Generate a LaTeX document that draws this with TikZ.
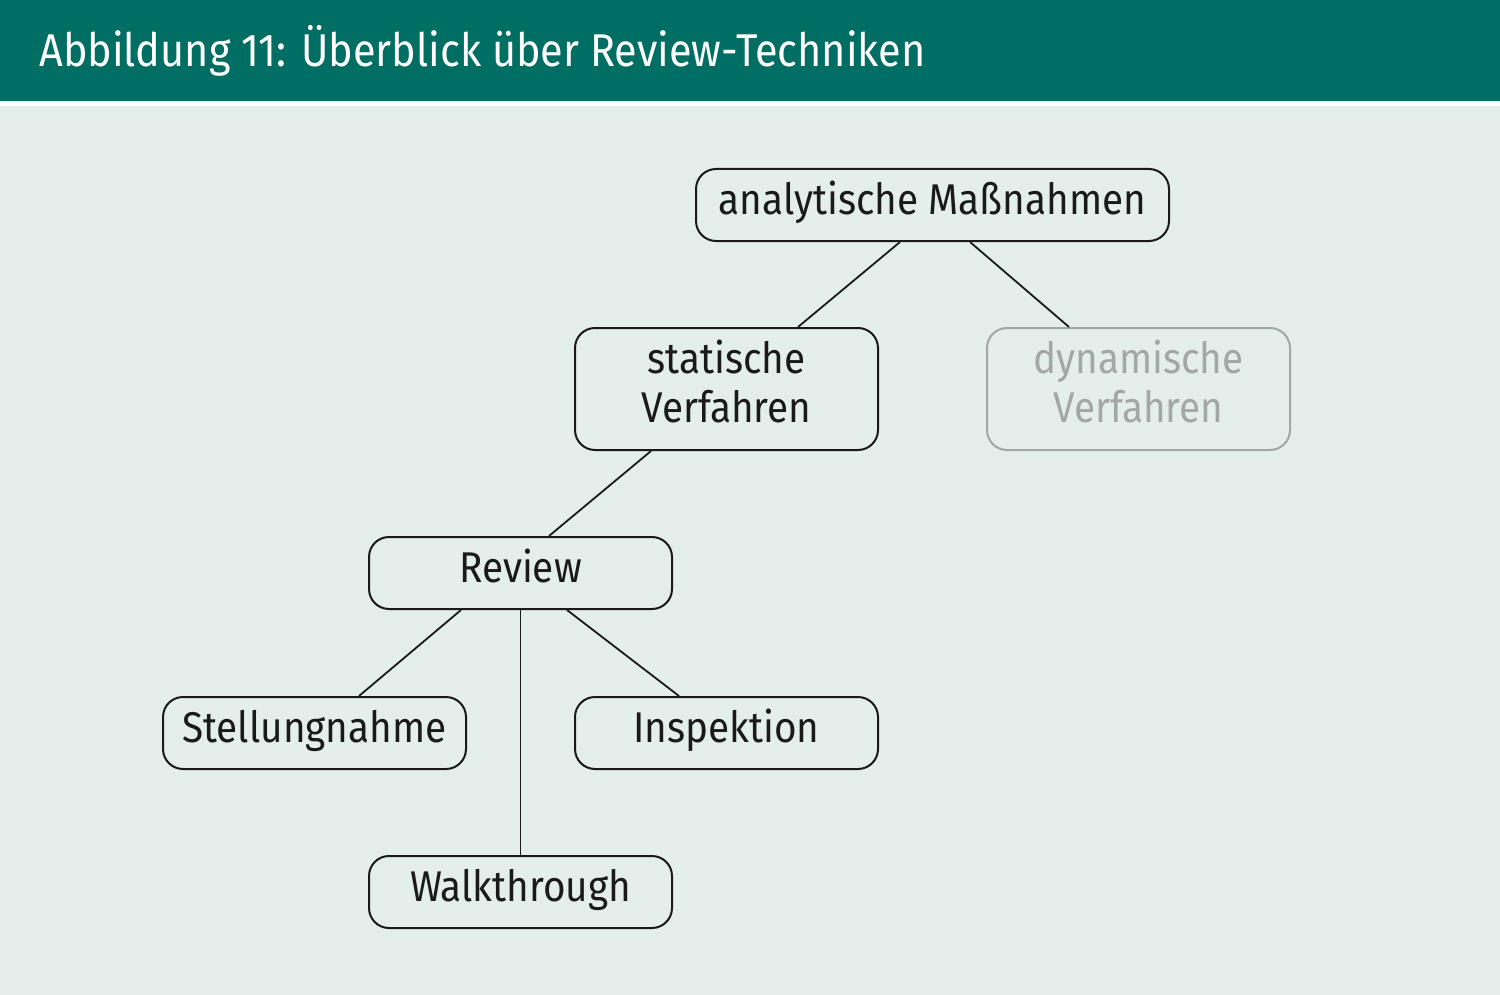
\documentclass[tikz,border=0pt]{standalone}
\usepackage{fontspec}
\setmainfont{Fira Sans}[FakeStretch=0.9]
\usetikzlibrary{calc}
\definecolor{teal}{HTML}{006E63}
\definecolor{bgc}{HTML}{E4EEEB}
\definecolor{ink}{HTML}{1A1A1A}
\definecolor{grayc}{HTML}{A3A7A6}
\begin{document}
\begin{tikzpicture}[x=0.5pt,y=-0.5pt,
  box/.style={draw=ink, line width=1pt, rounded corners=10pt, fill=bgc, text=ink,
    minimum width=151.5pt, minimum height=36pt, inner sep=0pt, align=center,
    text height=14pt, text depth=5pt,
    font=\fontsize{21.5}{24.5}\selectfont},
  twoline/.style={minimum height=61pt, text height=38.5pt, text depth=5pt},
  grey/.style={draw=grayc, text=grayc},
  conn/.style={draw=ink, line width=0.9pt}]
\useasboundingbox (0,0) rectangle (1500,995);
\fill[bgc] (0,0) rectangle (1500,995);
\fill[white] (0,100) rectangle (1500,106);
\fill[teal] (0,0) rectangle (1500,101);
\node[anchor=base west, text=white, inner sep=0pt, font=\fontsize{23}{27}\selectfont] (title) at (39,67) {Abbildung 11: Überblick über Review-Techniken};

\node[box, minimum width=236.5pt] (ana) at (932.5,205) {analytische Maßnahmen};
\node[box, twoline] (sta) at (726.5,389) {statische\\Verfahren};
\node[box, twoline, grey] (dyn) at (1138.5,389) {dynamische\\Verfahren};
\node[box] (rev) at (520.5,573) {Review};
\node[box] (ste) at (314.5,733) {Stellungnahme};
\node[box] (ins) at (726.5,733) {Inspektion};
\node[box] (wal) at (520.5,892) {Walkthrough};

\draw[conn] ($(ana.south)+(-32.5,0)$) -- ($(sta.north)+(71.5,0)$);
\draw[conn] ($(ana.south)+(37.5,0)$) -- ($(dyn.north)+(-69.5,0)$);
\draw[conn] ($(sta.south)+(-75.5,0)$) -- ($(rev.north)+(28.5,0)$);
\draw[conn] ($(rev.south)+(-59.5,0)$) -- ($(ste.north)+(44.5,0)$);
\draw[conn] (rev.south) -- (wal.north);
\draw[conn] ($(rev.south)+(46.5,0)$) -- ($(ins.north)+(-47.5,0)$);
\end{tikzpicture}
\end{document}
